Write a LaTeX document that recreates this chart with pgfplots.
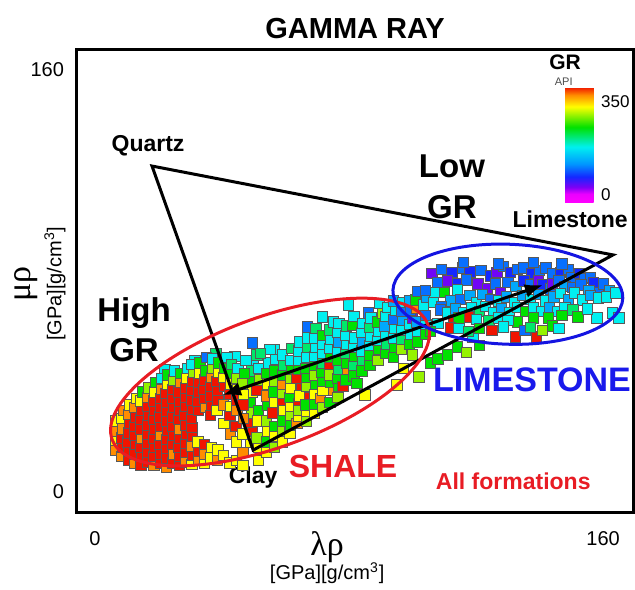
\documentclass[border=0pt]{standalone}
\usepackage{pgfplots}
\pgfplotsset{compat=1.18}
\usepackage{pgfplotstable}
\usepackage{fontspec}
\setmainfont{Liberation Sans}
\newfontfamily\grk{Liberation Serif}
\usetikzlibrary{arrows.meta}
\definecolor{ellred}{RGB}{232,28,36}
\definecolor{ellblue}{RGB}{20,20,225}
\definecolor{txtblue}{RGB}{25,25,235}
\pgfplotsset{colormap={gr}{rgb255(0cm)=(255,0,255) rgb255(30cm)=(235,0,255) rgb255(56cm)=(125,0,245) rgb255(95cm)=(20,40,255) rgb255(143cm)=(0,150,255) rgb255(207cm)=(0,240,240) rgb255(281cm)=(0,225,0) rgb255(358cm)=(255,255,0) rgb255(402cm)=(255,140,0) rgb255(432cm)=(240,20,0)}}

% GR codes: red 406, orange 376, yellow 332, yellow-green 300, green 255,
% cyan-green 222, cyan 181, light blue 130, blue 100, dark blue 69, purple 35
\pgfplotstableread{
x y c
49 19 332
49.5 23.5 406
49 26.5 406
49.3 30 300
49 34 255
49.5 38 332
49 42 255
49.4 46 222
49.8 50 181
51.5 12 332
51.5 17 332
51 20.5 300
51.3 27 332
51.5 31 255
51 38.7 406
51.7 42.5 300
51.5 47 181
51 52 222
54 15 332
54 19 255
54.2 23 332
54 27 300
54.3 33 255
54 36.5 376
54.2 41 332
54 45 255
54.5 49 181
56.5 17 300
56.5 21 332
55.8 30 406
56.6 25 255
56.5 34 332
56.3 38 255
56.6 42 300
56.5 46 255
57 50.5 181
56.5 54 181
59 19 332
59 23 300
59.2 27 255
59 34 406
59.3 31 332
59 37.5 300
59.2 41 376
59 44.5 255
59.4 48 222
59 52 181
61.4 22.4 332
61.5 25.5 255
61.7 29 300
61.5 32.5 332
61.3 36 255
61.6 39.5 332
61.5 43 300
61.8 46.5 255
61.5 50 181
62 54.5 222
63.6 26 376
64 28.7 332
64 33.7 406
64.2 31 300
63.6 43 406
65 39.4 406
64.3 36.5 332
64 46.5 255
64.2 50 181
64 53.5 181
64.5 57 181
66.5 27 300
66.6 30.5 332
67.7 36 406
66.4 33 255
66.7 40 300
66.5 43.5 255
66.3 47 255
66.6 51 181
66.8 55 222
67 58.5 181
66.8 62.6 100
69 30 332
69.2 33.5 255
69 37 332
70.9 35.6 376
69.3 41 255
69 44.5 300
69.2 48 255
69 51.5 181
69.4 55 181
69 58.5 181
69.5 62 222
71.5 32 300
71.7 38.5 332
71.5 42 255
71.3 45.5 255
71.6 49 222
71.5 52.5 181
71.8 56 181
71.5 59.5 255
71.5 66.4 181
74 34 255
74 47.4 406
75 38.7 376
74.2 41.5 255
74 44.5 300
74.3 51 255
74 54.5 181
74.2 58 181
74 61.5 222
75 64.5 181
76.5 36 300
76.6 40 255
76.4 43 255
76.7 46.5 222
76.5 50 255
76.3 53.5 181
76.6 57 130
76.5 60.5 181
76.8 64 181
78 40 406
79.4 45.5 376
79 42.5 255
79.2 49 255
79 52.5 222
79.3 56 181
79 59.5 181
79.2 63 222
79.7 71 181
81.5 44 255
82.5 41.3 255
81.5 48 222
81.7 51.5 255
81.4 55 181
81.6 58.5 181
81 63.3 255
81.5 66.5 181
85 36.8 332
84 46 255
84.2 50 222
84 53.5 181
84.3 57 130
84 60.5 181
84.2 64 181
86 68 100
86.5 48 255
86.6 52 255
86.4 55.5 181
86.7 59 181
86.5 62.5 222
86.8 66 181
89 50 300
89.2 54 255
89 57.5 181
89.3 61 181
89 64.5 255
90.4 68 300
89.5 71.5 181
91.5 52.5 255
91.7 56 222
91.5 59.5 181
91.3 63 130
91.6 66.5 181
92 70 181
95 40.6 332
94 51 255
94.2 55 255
94 58.5 181
94.3 62 181
94 65.5 100
94.5 69 181
94 72.5 130
96.5 54 300
96.6 58 222
96.4 61.5 181
96.7 65 130
96.5 68.5 100
96.8 72 181
99 56 255
99.2 60 181
99 63.5 181
100 66 35
99.3 69 100
99 72.5 130
102 43.6 300
101.5 57 255
101.7 61 181
101.4 64.5 130
101.4 69.8 376
100.8 72.8 255
101.5 76 100
104 60 255
104.2 63.5 181
103.3 71 181
104 67 100
104.5 74 130
105.5 49 255
108 50.5 255
111 52 255
114 55 255
117 53 300
121 55.7 255
119 58.8 181
100 52 300
97 47 332
}\band

\pgfplotstableread{
x y c
106 83 35
109 84.5 100
112.4 83.4 69
115.6 85 100
118 83.5 69
120.6 79 35
121.5 84 100
124.4 82 69
126.5 83.4 35
128.5 85.5 100
130.7 83.4 69
133 84.5 100
135 85 100
137.5 83 69
140 84 100
142 85 100
144 83 100
146.5 83.4 69
149 84.5 100
150 81.5 100
152.5 83 69
154 81 100
156 81.5 100
158.4 77.3 100
157 79.5 69
116 87 100
127 86.5 100
138 87 100
147 86.5 100
108 79.5 100
111 80 35
114 79 69
117 80.5 100
123.5 77.3 35
126 79 100
127.6 75.8 35
130 79.5 100
132.5 78 130
135 80 69
137 78.5 100
139.5 80 35
141 78.5 69
143.5 77 100
144 79 35
146 80 100
148 78 130
150.5 77.5 100
153 78.5 100
155.5 76.5 130
160 79 100
162 76.5 130
107 75.8 181
110 75.8 255
114 76.6 181
104 76.5 100
112 72.5 130
115 73 100
118 74.5 130
120 72 181
122 75 130
124.5 73 100
127 72.5 181
129.5 74 130
132 72 181
134.5 74.5 130
137 73 181
139.5 75 130
142 72.5 181
144.5 74 130
146.5 75.4 181
149 73 130
151 75.5 181
153.4 72.8 181
156 74.5 130
158.4 73.6 181
161 74 181
164 75.5 181
106.5 72 181
109 70.5 100
108.7 69 100
111 68 181
113.5 69.5 130
116 68 181
118.5 70 181
121 68.5 222
123 70.5 181
125.5 68 181
128 69.5 130
130.5 68 181
133 70 181
135.5 68.5 255
138 70 181
140.5 68.5 181
143 70 130
145.5 68.5 181
148 70 181
150.5 69 222
152 66.4 255
147 67 255
142.7 66 255
138 66 255
158 66 181
162.8 67.9 181
165 66 181
155 69.5 181
112.8 65.2 406
117.5 66.4 406
114.5 66 255
120 65.5 181
124 65 222
127 66 181
133 64.5 255
130 65 181
111.8 62.2 406
114.5 62 181
117.5 61 222
121 62 255
125 61.4 406
128.5 62.6 181
132.3 58.8 406
135.4 61.4 100
139 58.8 406
140.8 61.4 300
137 62.5 222
144 63 255
146 62 181
108 64 181
105.5 61 255
}\lime

\pgfplotstableread{
x y c
22 46.5 181
31.5 50 181
38 52.5 222
44 51.5 181
49.5 56.5 100
55 54 181
52 52.5 222
6.5 16 376
6.5 19.5 332
6.8 23 376
6.5 27 332
8.5 13.5 376
8.7 17 406
8.5 20.5 406
8.8 24 376
8.5 28 332
9 31 376
10.5 12 406
10.7 15.5 406
10.4 19 406
10.6 22.5 406
10.8 26 406
10.5 29.5 376
11 33 332
12.5 11 376
12.3 14.5 406
12.7 18 406
12.4 21.5 406
12.6 25 406
12.8 28.5 406
12.5 32 376
13 35.5 332
14.5 10 406
14.6 13.5 406
14.3 17 406
14.7 20.5 376
14.5 24 406
14.4 27.5 406
14.8 31 406
14.5 34.5 332
15 38 255
16.5 11.5 406
16.7 15 406
16.4 18.5 406
16.6 22 406
16.5 25.5 406
16.8 29 406
16.4 32.5 406
16.7 36 376
17 39.5 300
18.5 10 376
18.4 13.5 406
18.6 17 406
18.5 20.5 406
18.7 24 406
18.3 27.5 406
18.6 31 406
18.4 34.5 406
18.8 38 332
19 41.5 255
20.5 11 406
20.6 14.5 406
20.4 18 406
20.7 21.5 376
20.5 25 406
20.3 28.5 406
20.6 32 406
20.5 35.5 406
20.8 39 376
21 43 181
22.5 9.5 376
22.4 13 406
22.6 16.5 406
22.5 20 406
22.7 23.5 406
22.4 27 406
22.6 30.5 406
22.5 34 406
22.3 37.5 406
22.8 41 332
23 44.5 255
24.5 11 406
24.6 14.5 376
24.4 18 406
24.7 21.5 406
24.5 25 406
24.3 28.5 406
24.6 32 406
24.5 35.5 406
24.4 39 406
24.8 42.5 300
25 46 181
26.5 10 406
26.6 13.5 406
26.4 17 406
26.7 20.5 406
26.5 24 376
26.3 27.5 406
26.6 31 406
26.5 34.5 406
26.4 38 406
26.8 41.5 376
27 45 255
28.5 11.5 376
28.6 15 406
28.4 18.5 406
28.7 22 406
28.5 25.5 406
28.3 29 406
28.6 32.5 406
28.5 36 406
28.4 39.5 406
28.8 43 332
29 47 181
30.5 10.5 332
30.6 14 406
30.4 17.5 376
30.7 21 406
30.5 24.5 406
30.3 28 406
30.6 31.5 406
30.5 35 406
30.4 38.5 406
30.8 42 406
31 45.5 300
30.5 48.5 181
32.5 12 376
32.6 15.5 406
32.4 19 332
32.5 31 406
32.3 34.5 406
32.6 38 406
32.5 41.5 406
32.8 45 332
33 49 255
34.5 11 332
34.6 14.5 376
34.4 18 406
34.7 32 376
34.5 35.5 406
34.3 39 406
34.6 42.5 406
34.8 46 255
35 51 100
36.5 13 332
36.6 17 332
36.4 29 406
36.7 33 406
36.5 36.5 406
36.3 40 406
36.6 43.5 376
36.9 47 300
37 50.5 181
38.5 12 376
38.7 16 332
38.4 31 332
38.7 35 406
38.5 38.5 406
38.3 42 406
38.8 45.5 332
39 49 255
40.5 14 332
40.6 26 332
40.4 33 376
40.7 40 406
40.5 43.5 332
40.8 47 255
41.5 51 181
42.5 11 332
42.6 22 376
42.4 29 406
42.7 32.5 332
42.5 37 406
42.8 41 332
42.6 45 255
43 48.5 222
44.5 12 332
44.6 19 332
44.4 25 406
44.7 31 376
44.5 35 406
44.8 39 332
44.6 43 300
45 47 181
46.5 10 332
46.6 15 376
46.4 22 332
46.7 28 376
46.5 33 406
46.8 37 332
46.4 41 300
47 45 255
47.5 50 181
}\shale

\begin{document}
\begin{tikzpicture}
\useasboundingbox (0,0) rectangle (317.5pt,294.5pt);
\begin{axis}[
  at={(38pt,38.5pt)}, anchor=south west,
  scale only axis, width=278.5pt, height=231pt,
  xmin=-5.98, xmax=169.4, ymin=-7.58, ymax=167.6,
  clip=false,
  axis line style={line width=1.5pt},
  xtick={0,160}, xticklabels={0,160},
  ytick={0,160}, yticklabels={0,160},
  major tick length=0pt,
  tick label style={font=\fontsize{10}{12}\selectfont},
  xticklabel style={yshift=-6pt},
  yticklabel style={xshift=-2.5pt},
  colormap name=gr,
  point meta min=-26, point meta max=406,
  colorbar,
  colorbar style={
    at={(parent axis.north west)}, anchor=north west,
    xshift=236pt, yshift=-18.5pt,
    scale only axis, width=15.5pt, height=57.5pt,
    ytick={0,350}, yticklabels={0,350},
    major tick length=0pt,
    yticklabel style={font=\fontsize{8.5}{10}\selectfont, xshift=-1pt},
    axis line style={draw=none},
  },
]
\addplot[scatter, only marks, mark=square*, mark size=2.6pt, scatter src=explicit,
  scatter/use mapped color={draw=black!65, fill=mapped color},
  mark options={line width=0.35pt}] table[x=x,y=y,meta=c]{\band};
\addplot[scatter, only marks, mark=square*, mark size=2.6pt, scatter src=explicit,
  scatter/use mapped color={draw=black!65, fill=mapped color},
  mark options={line width=0.35pt}] table[x=x,y=y,meta=c]{\lime};
\addplot[scatter, only marks, mark=square*, mark size=2.6pt, scatter src=explicit,
  scatter/use mapped color={draw=black!65, fill=mapped color},
  mark options={line width=0.35pt}] table[x=x,y=y,meta=c]{\shale};

\coordinate (q) at (axis cs:17.95,123.6);
\coordinate (l) at (axis cs:163.1,89.9);
\coordinate (k) at (axis cs:49.8,15.9);
\coordinate (a1) at (axis cs:40.3,36.8);
\coordinate (a2) at (axis cs:141,78.5);
\coordinate (rc) at (axis cs:55.1,41.7);
\coordinate (bc) at (axis cs:130,75);

% texts
\node[font=\fontsize{14.5}{16}\selectfont\bfseries] at (axis cs:81.9,175.9) {GAMMA RAY};
\node[rotate=90, font=\grk\fontsize{17}{18}\selectfont] at (axis cs:-21.7,79) {μρ};
\node[rotate=90, font=\fontsize{10}{12}\selectfont] at (axis cs:-12.6,79) {[GPa][g/cm\textsuperscript{3}]};
\node[font=\grk\fontsize{17}{18}\selectfont] at (axis cs:73.1,-20.9) {λρ};
\node[font=\fontsize{10}{12}\selectfont] at (axis cs:73.1,-30.7) {[GPa][g/cm\textsuperscript{3}]};
\node[font=\fontsize{11.5}{13}\selectfont\bfseries] at (axis cs:16.7,131.2) {Quartz};
\node[font=\fontsize{11.5}{13}\selectfont\bfseries] at (axis cs:49.8,5.3) {Clay};
\node[font=\fontsize{11.5}{13}\selectfont\bfseries] at (axis cs:149.6,103.5) {Limestone};
\node[font=\fontsize{16.5}{18}\selectfont\bfseries] at (axis cs:112.4,123.6) {Low};
\node[font=\fontsize{16.5}{18}\selectfont\bfseries] at (axis cs:112.4,108) {GR};
\node[font=\fontsize{16.5}{18}\selectfont\bfseries, anchor=base] at (axis cs:12.3,64.5) {High};
\node[font=\fontsize{16.5}{18}\selectfont\bfseries, anchor=base] at (axis cs:12.3,49.3) {GR};
\node[font=\fontsize{16}{18}\selectfont\bfseries, text=ellred] at (axis cs:78.1,9.5) {SHALE};
\node[font=\fontsize{17}{19}\selectfont\bfseries, text=txtblue] at (axis cs:137.6,42.5) {LIMESTONE};
\node[font=\fontsize{11.5}{13}\selectfont\bfseries, text=ellred] at (axis cs:131.7,4.2) {All formations};
\node[font=\fontsize{10.5}{12}\selectfont\bfseries] at (axis cs:148,163) {GR};
\node[font=\fontsize{5.5}{6}\selectfont, text=black!70] at (axis cs:147.6,155.6) {API};
\end{axis}
\draw[line width=1.5pt, line join=miter] (q) -- (l) -- (k) -- cycle;
\draw[line width=1.5pt, {Latex[length=9pt,width=7pt]}-{Latex[length=9pt,width=7pt]}] (a1) -- (a2);
\draw[ellred, line width=1.5pt, rotate around={20:(rc)}] (rc) ellipse [x radius=84pt, y radius=32.5pt];
\draw[ellblue, line width=1.5pt, rotate around={-2:(bc)}] (bc) ellipse [x radius=57.5pt, y radius=25pt];
\end{tikzpicture}
\end{document}
